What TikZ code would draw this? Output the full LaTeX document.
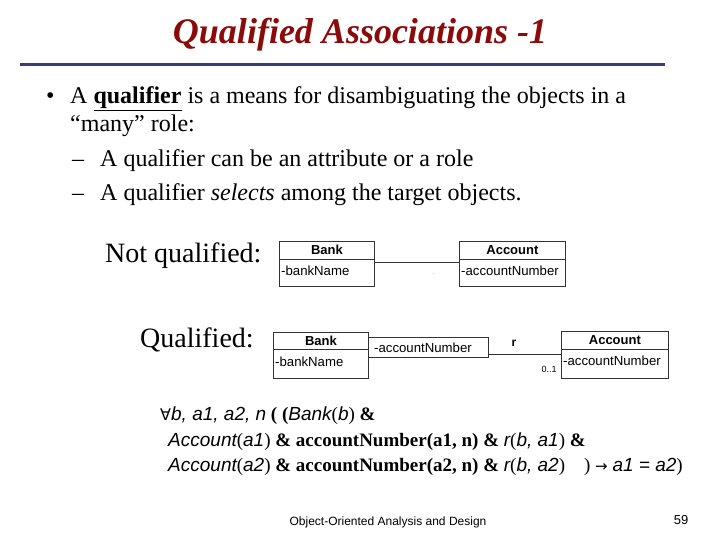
\documentclass[tikz,border=0pt]{standalone}
\usepackage{fontspec}
\setmainfont{Liberation Serif}
\newfontfamily\arial{Liberation Sans}
\newfontfamily\djv{DejaVu Sans}
\definecolor{titlered}{HTML}{8B0A0A}
\definecolor{rulenavy}{HTML}{3A3A80}
\newcommand{\si}[1]{{\arial\itshape #1}}
\begin{document}
\begin{tikzpicture}[x=1pt,y=-1pt,
  txt/.style={anchor=base west, inner sep=0pt, font=\fontsize{24}{28}\selectfont},
  lbl/.style={anchor=base west, inner sep=0pt, font=\fontsize{28}{32}\selectfont},
  umlbox/.style={draw=black!80, line width=0.8pt, anchor=north west, inner sep=0pt},
  umlhead/.style={font=\arial\bfseries\fontsize{13}{15}\selectfont, inner sep=0pt},
  umlattr/.style={font=\arial\fontsize{13.2}{15}\selectfont, inner sep=0pt, anchor=west},
  frm/.style={anchor=base west, inner sep=0pt, font=\fontsize{19}{22}\selectfont},
  assoc/.style={draw=black!80, line width=0.8pt}
]
\useasboundingbox (0,0) rectangle (720,540);
% title
\node[font=\bfseries\itshape\fontsize{36}{40}\selectfont, text=titlered, inner sep=0pt] (title) at (360,35) {Qualified Associations -1};
\coordinate (rl) at (20,65);
\coordinate (rr) at (665,65);
\draw[rulenavy, line width=3pt] (rl) -- (rr);
% bullets
\node[txt] (b0) at (46,104) {\textbullet};
\node[txt] (t1) at (70,104) {A \textbf{\underline{qualifier}} is a means for disambiguating the objects in a};
\node[txt] (t2) at (70,132) {“many” role:};
\node[txt] (d1) at (72,167) {–};
\node[txt] (t3) at (100,167) {A qualifier can be an attribute or a role};
\node[txt] (d2) at (72,201) {–};
\node[txt] (t4) at (100,201) {A qualifier \textit{selects} among the target objects.};
% not qualified
\node[lbl] (nq) at (105,262) {Not qualified:};
\node[umlbox, minimum width=95, minimum height=45] (bank1) at (279,241) {};
\draw[black!80, line width=0.8pt] ([yshift=-18]bank1.north west) -- ([yshift=-18]bank1.north east);
\node[umlhead] (bank1h) at ([yshift=-9]bank1.north) {Bank};
\node[umlattr] (bank1a) at ([xshift=2,yshift=-30]bank1.north west) {-bankName};
\node[umlbox, minimum width=106, minimum height=45] (acc1) at (459,241) {};
\draw[black!80, line width=0.8pt] ([yshift=-18]acc1.north west) -- ([yshift=-18]acc1.north east);
\node[umlhead] (acc1h) at ([yshift=-9]acc1.north) {Account};
\node[umlattr] (acc1a) at ([xshift=2,yshift=-30]acc1.north west) {-accountNumber};
\draw[assoc] (bank1.east |- 0,262) -- (acc1.west |- 0,262);
\node[font=\arial\fontsize{6}{7}\selectfont, text=black!60, inner sep=0pt] (dot) at (434,274) {.};
% qualified
\node[lbl] (ql) at (140,347) {Qualified:};
\node[umlbox, minimum width=95, minimum height=46] (bank2) at (273,332) {};
\draw[black!80, line width=0.8pt] ([yshift=-17]bank2.north west) -- ([yshift=-17]bank2.north east);
\node[umlhead] (bank2h) at ([yshift=-9]bank2.north) {Bank};
\node[umlattr] (bank2a) at ([xshift=2,yshift=-30]bank2.north west) {-bankName};
\node[umlbox, minimum width=120, minimum height=20] (qual) at (368,337) {};
\node[umlattr] (quala) at ([xshift=6]qual.west) {-accountNumber};
\node[umlbox, minimum width=107, minimum height=47] (acc2) at (561,331) {};
\draw[black!80, line width=0.8pt] ([yshift=-18]acc2.north west) -- ([yshift=-18]acc2.north east);
\node[umlhead] (acc2h) at ([yshift=-9]acc2.north) {Account};
\node[umlattr] (acc2a) at ([xshift=2,yshift=-30]acc2.north west) {-accountNumber};
\draw[assoc] (qual.east |- 0,354) -- (acc2.west |- 0,354);
\node[font=\arial\bfseries\fontsize{12}{13}\selectfont, inner sep=0pt] (r) at (514,343) {r};
\node[font=\arial\fontsize{9}{10}\selectfont, inner sep=0pt] (m) at (549,369) {0..1};
% formula
\node[frm] (f1) at (160,420) {{\djv\fontsize{16}{18}\selectfont ∀}\si{b, a1, a2, n} \textbf{( (}\si{Bank}(\si{b}) \textbf{\&}};
\node[frm] (f2) at (168,446) {\si{Account}(\si{a1}) \textbf{\& accountNumber(a1, n) \&} \si{r}(\si{b, a1}) \textbf{\&}};
\node[frm] (f3) at (168,471) {\si{Account}(\si{a2}) \textbf{\& accountNumber(a2, n) \&} \si{r}(\si{b, a2})\quad ) {\djv\fontsize{15}{17}\selectfont →} \si{a1 = a2})};
% footer
\node[font=\arial\fontsize{12}{14}\selectfont, inner sep=0pt] (foot) at (388,522) {Object-Oriented Analysis and Design};
\node[font=\arial\fontsize{13}{15}\selectfont, inner sep=0pt] (pg) at (681,520) {59};
\end{tikzpicture}
\end{document}
